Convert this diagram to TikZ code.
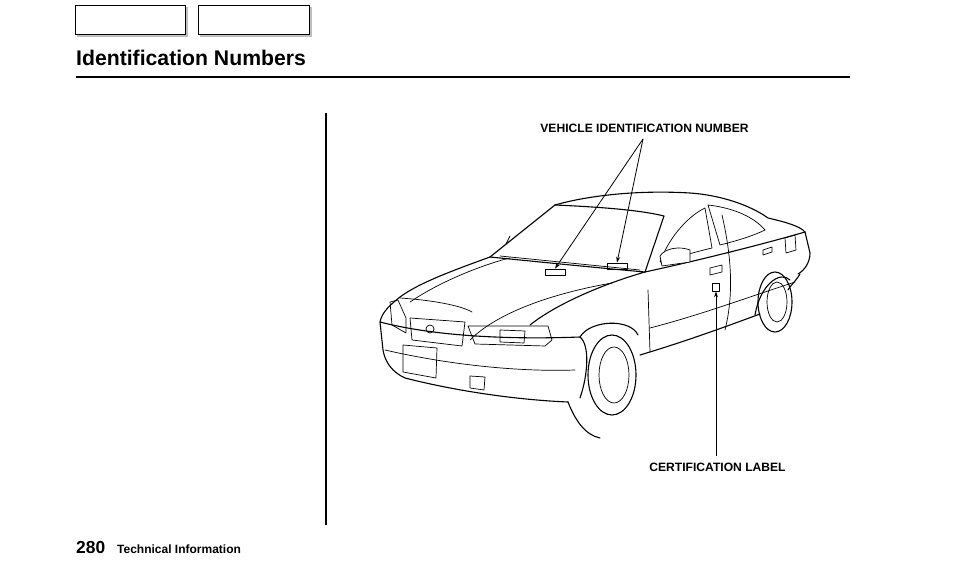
\documentclass[tikz,border=0pt]{standalone}
\usepackage{fontspec}
\setmainfont{Liberation Sans}
\usetikzlibrary{arrows.meta}
\begin{document}
\begin{tikzpicture}[x=1pt,y=-1pt,
  car/.style={line width=1.1pt,line join=round,line cap=round},
  thin/.style={line width=0.7pt,line join=round,line cap=round},
  lbl/.style={font=\fontsize{12.1}{14}\selectfont\bfseries,inner sep=0pt},
  ptr/.style={line width=0.8pt,-{Stealth[length=6pt,width=4pt]}},
  tab/.style={draw,line width=1.2pt}]
\useasboundingbox (0,0) rectangle (954,572);
% header tabs
\fill[gray!50] (77,7) rectangle (188,37);
\fill[gray!50] (200,7) rectangle (312,37);
\node[tab,fill=white,minimum width=110pt,minimum height=29pt,anchor=north west] (t1) at (75,5) {};
\node[tab,fill=white,minimum width=111pt,minimum height=29pt,anchor=north west] (t2) at (198,5) {};
\node[anchor=base west,inner sep=0pt,font=\fontsize{21.2}{24}\selectfont\bfseries] (title) at (76,66) {Identification Numbers};
\draw[line width=2.6pt] (76,77) -- (850,77);
\draw[line width=1.5pt] (326,113) -- (326,525);
\node[anchor=base west,inner sep=0pt,font=\fontsize{17.4}{20}\selectfont\bfseries] (pg) at (76,553) {280};
\node[anchor=base west,inner sep=0pt,font=\fontsize{12}{14}\selectfont\bfseries] (sec) at (117,553) {Technical Information};
% labels
\node[lbl,anchor=base] (vin) at (644.5,133) {VEHICLE IDENTIFICATION NUMBER};
\node[lbl,anchor=base] (cert) at (717.5,471) {CERTIFICATION LABEL};
% car body
\draw[car] (490,257) -- (555,205) .. controls (590,195) and (640,190) .. (690,193) .. controls (720,195) and (750,205) .. (768,218) .. controls (785,222) and (800,226) .. (805,232) -- (810,253) .. controls (810,262) and (805,270) .. (798,274);
\draw[car] (555,205) .. controls (600,207) and (640,210) .. (664,216) -- (645,272);
\draw[car] (490,257) .. controls (460,268) and (420,282) .. (400,297) .. controls (390,305) and (382,312) .. (380,322) -- (383,350) .. controls (385,362) and (392,372) .. (405,378) .. controls (460,392) and (520,400) .. (568,402);
\draw[car] (490,257) .. controls (540,262) and (600,268) .. (645,272) .. controls (600,285) and (555,305) .. (530,325);
\draw[car] (380,322) .. controls (430,335) and (500,340) .. (580,337) .. controls (590,345) and (588,375) .. (580,398);
% hood crease
\draw[thin] (400,298) .. controls (430,300) and (460,305) .. (472,312);
\draw[thin] (470,340) .. controls (500,310) and (560,292) .. (612,283);
\draw[thin] (410,302) .. controls (450,275) and (500,260) .. (510,258);
% headlights and grille
\draw[thin] (390,302) -- (398,300) -- (406,318) -- (406,333) -- (392,325) -- cycle;
\draw[thin] (410,318) -- (465,322) -- (462,346) -- (412,340) -- cycle;
\draw[thin] (430,329) circle (4);
\draw[thin] (468,326) -- (548,326) -- (552,340) -- (545,346) -- (475,344) -- cycle;
\draw[thin] (500,330) -- (525,331) -- (524,343) -- (500,342) -- cycle;
\draw[thin] (403,345) -- (437,348) -- (436,378) -- (403,372) -- cycle;
\draw[thin] (470,376) -- (485,377) -- (484,390) -- (470,388) -- cycle;
\draw[thin] (385,350) .. controls (450,365) and (520,372) .. (575,370);
% side
\draw[car] (645,272) .. controls (700,260) and (760,245) .. (805,232);
\draw[car] (640,355) .. controls (690,340) and (730,325) .. (760,314);
\draw[car] (800,274) .. controls (795,282) and (790,286) .. (788,290);
\draw[thin] (648,290) -- (650,352);
\draw[thin] (722,215) .. controls (730,250) and (735,290) .. (725,330);
\draw[thin] (650,328) .. controls (700,315) and (740,300) .. (795,282);
% windows
\draw[thin] (660,262) .. controls (670,235) and (690,215) .. (705,208) -- (712,248) .. controls (695,252) and (675,258) .. (660,262);
\draw[thin] (708,205) -- (720,245) .. controls (740,240) and (755,235) .. (765,230) .. controls (755,218) and (735,208) .. (708,205);
% mirror
\draw[thin,fill=white] (660,256) .. controls (665,248) and (680,246) .. (690,250) -- (690,262) -- (662,266) -- cycle;
% handles, fuel door
\draw[thin] (710,268) -- (722,265) -- (722,272) -- (710,275) -- cycle;
\draw[thin] (763,250) -- (772,247) -- (772,252) -- (763,255) -- cycle;
\draw[thin] (785,238) -- (795,235) -- (796,250) -- (786,253) -- cycle;
% wheels
\draw[car] (568,402) .. controls (575,420) and (585,435) .. (600,438);
\draw[car] (612,375) ellipse (24 and 40);
\draw[thin] (614,375) ellipse (15 and 28);
\draw[car] (580,337) .. controls (590,320) and (630,318) .. (638,335);
\draw[car] (775,302) ellipse (17 and 30);
\draw[thin] (777,302) ellipse (10 and 20);
\draw[car] (755,315) .. controls (760,285) and (780,270) .. (790,280);
% wipers / antenna
\draw[thin] (500,256) -- (560,262) -- (640,270);
\draw[thin] (510,236) -- (506,244);
% VIN plates and cert label
\node[draw,thin,minimum width=20pt,minimum height=6pt,inner sep=0pt] (p1) at (555,272) {};
\node[draw,thin,minimum width=20pt,minimum height=6pt,inner sep=0pt] (p2) at (617,266) {};
\node[draw,thin,minimum width=7pt,minimum height=8pt,inner sep=0pt] (cl) at (716,287) {};
\coordinate (vt) at (643,139);
\draw[ptr] (vt) -- (p1.north);
\draw[ptr] (vt) -- (p2.north);
\draw[ptr] (cert.north -| cl) ++(0,-6) -- (cl.south);
\end{tikzpicture}
\end{document}
